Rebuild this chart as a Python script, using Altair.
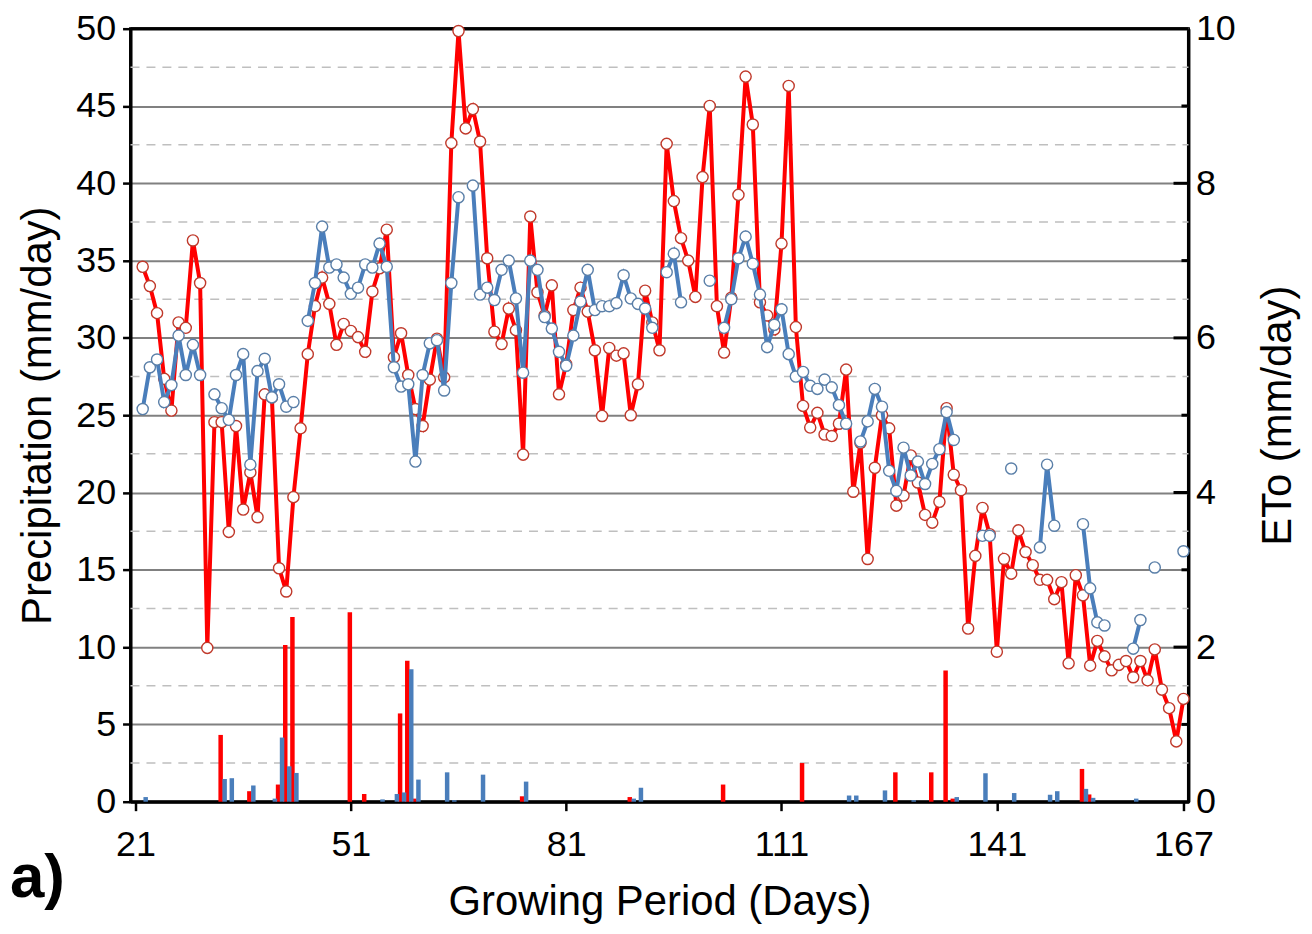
import altair as alt
import pandas as pd

# ---------------- data ----------------
days = list(range(22, 168))

eto_red = [6.92, 6.67, 6.32, 5.47, 5.06, 6.20, 6.13, 7.26, 6.71, 1.99,
           4.91, 4.91, 3.49, 4.86, 3.78, 4.26, 3.68, 5.27, 5.23, 3.02,
           2.72, 3.94, 4.83, 5.79, 6.41, 6.78, 6.44, 5.91, 6.18, 6.09,
           6.01, 5.82, 6.60, 6.90, 7.40, 5.75, 6.06, 5.52, 5.08, 4.86,
           5.46, 5.99, 5.49, 8.52, 9.97, 8.71, 8.96, 8.54, 7.03, 6.08,
           5.92, 6.38, 6.10, 4.49, 7.57, 6.59, 6.29, 6.68, 5.27, 5.66,
           6.36, 6.65, 6.34, 5.84, 4.99, 5.87, 5.77, 5.80, 5.00, 5.40,
           6.61, 6.20, 5.84, 8.51, 7.77, 7.29, 7.00, 6.53, 8.08, 9.00,
           6.41, 5.81, 6.52, 7.85, 9.38, 8.76, 6.46, 6.29, 6.11, 7.22,
           9.26, 6.14, 5.12, 4.84, 5.03, 4.75, 4.73, 4.89, 5.59, 4.01,
           4.64, 3.14, 4.32, 5.00, 4.83, 3.83, 3.96, 4.48, 4.13, 3.71,
           3.61, 3.88, 5.09, 4.23, 4.03, 2.24, 3.18, 3.80, 3.46, 1.94,
           3.14, 2.95, 3.51, 3.23, 3.06, 2.87, 2.87, 2.62, 2.84, 1.79,
           2.93, 2.67, 1.76, 2.08, 1.88, 1.70, 1.77, 1.82, 1.61, 1.82,
           1.57, 1.97, 1.45, 1.21, 0.78, 1.33]

N = None
eto_blue = [5.08, 5.62, 5.72, 5.17, 5.39, 6.03, 5.52, 5.91, 5.52, N,
            5.27, 5.09, 4.94, 5.52, 5.79, 4.36, 5.57, 5.73, 5.23, 5.40,
            5.11, 5.17, N, 6.22, 6.71, 7.44, 6.91, 6.95, 6.78, 6.57,
            6.65, 6.95, 6.91, 7.22, 6.92, 5.62, 5.37, 5.40, 4.40, 5.52,
            5.93, 5.97, 5.32, 6.71, 7.82, N, 7.97, 6.56, 6.65, 6.49,
            6.88, 7.00, 6.51, 5.55, 7.00, 6.88, 6.27, 6.12, 5.82, 5.64,
            6.03, 6.47, 6.88, 6.36, 6.41, 6.41, 6.45, 6.81, 6.51, 6.44,
            6.38, 6.13, N, 6.85, 7.09, 6.46, N, N, N, 6.74,
            N, 6.13, 6.50, 7.03, 7.31, 6.96, 6.56, 5.88, 6.17, 6.37,
            5.79, 5.50, 5.56, 5.38, 5.34, 5.46, 5.36, 5.13, 4.89, N,
            4.66, 4.92, 5.34, 5.11, 4.28, 4.02, 4.58, 4.22, 4.40, 4.11,
            4.37, 4.56, 5.04, 4.68, N, N, N, 3.44, 3.44, N,
            N, 4.31, N, N, N, 3.29, 4.36, 3.57, N, N,
            N, 3.59, 2.76, 2.32, 2.28, N, N, N, 1.98, 2.35,
            N, 3.03, N, N, N, 3.24]

red_bar_days = [33, 37, 41, 42, 43, 51, 53, 58, 59, 60, 75, 90, 103, 114,
                127, 132, 134, 135, 153, 154]
red_bar_mm = [4.32, 0.68, 1.11, 10.13, 11.94, 12.26, 0.5, 5.71, 9.12, 0.2,
              0.35, 0.3, 1.11, 2.5, 1.9, 1.9, 8.48, 0.2, 2.12, 0.47]

blue_bar_days = [22, 33, 34, 37, 40, 41, 42, 43, 55, 57, 58, 59, 60, 64, 65,
                 69, 75, 90, 91, 120, 121, 125, 129, 135, 139, 143, 148, 149,
                 153, 154, 160]
blue_bar_mm = [0.3, 1.47, 1.52, 1.05, 0.2, 4.15, 2.29, 1.86, 0.15, 0.5, 0.6,
               8.57, 1.43, 1.9, 0.1, 1.75, 1.30, 0.2, 0.9, 0.4, 0.4, 0.73,
               0.1, 0.3, 1.84, 0.56, 0.45, 0.68, 0.83, 0.25, 0.2]

x_ticks = [21, 51, 81, 111, 141, 167]
precip_major = [0, 5, 10, 15, 20, 25, 30, 35, 40, 45, 50]
precip_minor = [2.5, 7.5, 12.5, 17.5, 22.5, 27.5, 32.5, 37.5, 42.5, 47.5]
eto_major = [0, 2, 4, 6, 8, 10]
eto_minor = [1, 3, 5, 7, 9]

# ---------------- frames ----------------
df_red = pd.DataFrame({"day": days, "eto": eto_red})
df_blue = pd.DataFrame({"day": days, "eto": eto_blue})
df_blue["seg"] = df_blue["eto"].isna().cumsum()
df_blue = df_blue.dropna()
df_rbar = pd.DataFrame({"day": red_bar_days, "mm": red_bar_mm})
df_bbar = pd.DataFrame({"day": blue_bar_days, "mm": blue_bar_mm})
df_minor = pd.DataFrame({"mm": precip_minor})
df_top = pd.DataFrame({"mm": [50]})
df_emaj = pd.DataFrame({"eto": eto_major[1:-1]})
df_emin = pd.DataFrame({"eto": eto_minor})
df_label = pd.DataFrame({"t": ["a)"]})

W, H = 1062, 776
FONT = "Liberation Sans"
RED = "#FF0000"
BLUE = "#4A7EBB"
RED_EDGE = "#C0392B"
BLUE_EDGE = "#5A7FA8"
LBL = 36
TTL = 42

x_scale = alt.Scale(domain=[21, 167], nice=False, zero=False)
x_axis = alt.Axis(values=x_ticks, title="Growing Period (Days)", grid=False,
                  labelFontSize=LBL, titleFontSize=TTL, labelColor="black",
                  titleColor="black", titleFontWeight="normal",
                  tickSize=9, tickWidth=2.5, tickColor="black",
                  domainColor="black", domainWidth=3, labelPadding=17,
                  titleBaseline="alphabetic", titleY=113,
                  labelFont=FONT, titleFont=FONT)
p_scale = alt.Scale(domain=[0, 50], nice=False)
p_axis = alt.Axis(values=precip_major, title="Precipitation (mm/day)",
                  grid=True, gridColor="#808080", gridWidth=2,
                  labelFontSize=LBL, titleFontSize=TTL, labelColor="black",
                  titleColor="black", titleFontWeight="normal",
                  tickSize=8, tickWidth=2.5, tickColor="black",
                  domainColor="black", domainWidth=3, labelPadding=7,
                  titleAngle=-90, titleBaseline="alphabetic",
                  titleX=-80, titleY=H / 2, titleAlign="center",
                  labelFont=FONT, titleFont=FONT)
e_scale = alt.Scale(domain=[0, 10], nice=False)
e_axis = alt.Axis(orient="right", values=eto_major, title="ETo (mm/day)",
                  grid=False, ticks=False, labelFontSize=LBL,
                  titleFontSize=TTL, labelColor="black", titleColor="black",
                  titleFontWeight="normal", domainColor="black",
                  domainWidth=3, labelPadding=7,
                  titleAngle=-90, titleBaseline="alphabetic",
                  titleX=102, titleY=H / 2, titleAlign="center",
                  labelFont=FONT, titleFont=FONT)

X = alt.X("day:Q", scale=x_scale, axis=x_axis)

# ---- left (precipitation) group ----
minor_grid = alt.Chart(df_minor).mark_rule(
    color="#BFBFBF", strokeWidth=1.5, strokeDash=[9, 7]
).encode(
    y=alt.Y("mm:Q", scale=p_scale, axis=p_axis),
    x=alt.value(0), x2=alt.value(W),
)
top_line = alt.Chart(df_top).mark_rule(color="black", strokeWidth=3).encode(
    y=alt.Y("mm:Q", scale=p_scale, axis=p_axis),
    x=alt.value(0), x2=alt.value(W),
)
red_bars = alt.Chart(df_rbar).mark_bar(color=RED, width=4.5, xOffset=-1).encode(
    x=X, y=alt.Y("mm:Q", scale=p_scale, axis=p_axis),
)
blue_bars = alt.Chart(df_bbar).mark_bar(color=BLUE, width=4.5, xOffset=3).encode(
    x=X, y=alt.Y("mm:Q", scale=p_scale, axis=p_axis),
)
label_a = alt.Chart(df_label).mark_text(
    fontSize=62, fontWeight="bold", font=FONT, align="left",
    baseline="alphabetic", color="black"
).encode(text="t:N", x=alt.value(-121), y=alt.value(H + 96))

left = alt.layer(minor_grid, red_bars, blue_bars, top_line, label_a)

# ---- right (ETo) group ----
EY = alt.Y("eto:Q", scale=e_scale, axis=e_axis)
tick_major = alt.Chart(df_emaj).mark_rule(color="black", strokeWidth=3).encode(
    y=EY, x=alt.value(W - 15), x2=alt.value(W),
)
tick_minor = alt.Chart(df_emin).mark_rule(color="black", strokeWidth=3).encode(
    y=EY, x=alt.value(W - 7), x2=alt.value(W),
)
red_line = alt.Chart(df_red).mark_line(color=RED, strokeWidth=4).encode(
    x=X, y=EY,
)
red_pts = alt.Chart(df_red).mark_circle(
    size=125, color="white", opacity=1, stroke=RED_EDGE, strokeWidth=1.4
).encode(x=X, y=EY)
blue_line = alt.Chart(df_blue).mark_line(color=BLUE, strokeWidth=4).encode(
    x=X, y=EY, detail="seg:N",
)
blue_pts = alt.Chart(df_blue).mark_circle(
    size=125, color="white", opacity=1, stroke=BLUE_EDGE, strokeWidth=1.4
).encode(x=X, y=EY)

right = alt.layer(tick_major, tick_minor, red_line, red_pts, blue_line, blue_pts)

chart = alt.layer(left, right).resolve_scale(y="independent").properties(
    width=W, height=H,
    autosize=alt.AutoSizeParams(type="none"),
    padding={"left": 123, "top": 19, "right": 116, "bottom": 122},
).configure(
    font=FONT,
    view=alt.ViewConfig(stroke="black", strokeWidth=3),
)

chart.save("out.html", embed_options={"renderer": "svg", "actions": False})
